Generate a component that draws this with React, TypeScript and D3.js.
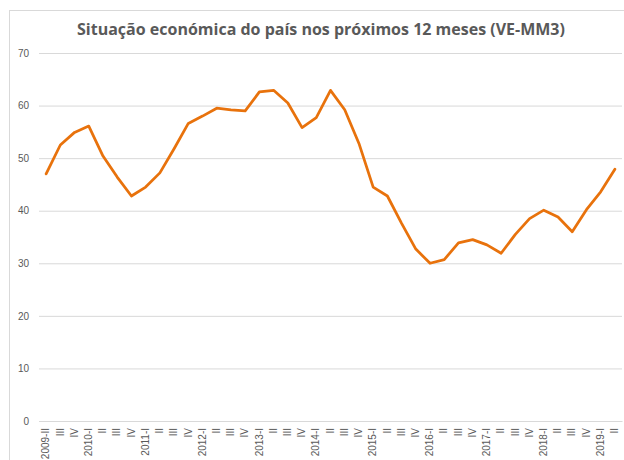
import React, { useEffect, useRef } from 'react';
import * as d3 from 'd3';

const years = ['2009', '2010', '2011', '2012', '2013', '2014', '2015', '2016', '2017', '2018', '2019'];
const quarters = ['I', 'II', 'III', 'IV'];

// quarter labels from 2009-II to 2019-II
const categories: string[] = [];
years.forEach((yr) => {
    quarters.forEach((q) => {
        if (yr === '2009' && q === 'I') return;
        if (yr === '2019' && (q === 'III' || q === 'IV')) return;
        categories.push(`${yr}-${q}`);
    });
});

const values = [
    47.0, 52.5, 54.9,
    56.1, 50.4, 46.4, 42.8,
    44.5, 47.2, 51.8, 56.6,
    58.0, 59.5, 59.2, 59.0,
    62.6, 62.9, 60.5, 55.8,
    57.7, 62.9, 59.2, 52.8,
    44.5, 42.8, 37.6, 32.7,
    30.0, 30.7, 33.9, 34.5,
    33.5, 31.9, 35.5, 38.5,
    40.1, 38.8, 36.0, 40.2,
    43.6, 47.9,
];

const yTicks = [0, 10, 20, 30, 40, 50, 60, 70];

const title = 'Situação económica do país nos próximos 12 meses (VE-MM3)';

// first category and every first quarter keep the year
const tickLabel = (c: string, i: number) => (i === 0 || c.endsWith('-I') ? c : c.split('-')[1]);

const App: React.FC = () => {
    const ref = useRef<SVGSVGElement>(null);

    useEffect(() => {
        if (!ref.current) return;
        const svg = d3.select(ref.current);
        svg.selectAll('*').remove();

        const width = 624;
        const height = 460;
        const margin = { top: 53, right: 2, bottom: 39, left: 39 };
        const font = 'Liberation Sans, Arial, sans-serif';

        svg.append('rect')
            .attr('x', 9.5).attr('y', 10.5)
            .attr('width', width).attr('height', height)
            .attr('fill', '#fff')
            .attr('stroke', '#d9d9d9');

        svg.append('text')
            .attr('x', 321).attr('y', 35)
            .attr('text-anchor', 'middle')
            .attr('font-family', 'Open Sans, sans-serif')
            .attr('font-size', 16)
            .attr('font-weight', 'bold')
            .attr('fill', '#595959')
            .text(title);

        const x = d3.scaleBand()
            .domain(categories)
            .range([margin.left, width - margin.right]);

        const y = d3.scaleLinear()
            .domain([0, 70])
            .range([height - margin.bottom, margin.top]);

        const grid = svg.append('g')
            .attr('transform', `translate(${margin.left},0)`)
            .call(d3.axisLeft(y).tickValues(yTicks).tickSize(-(width - margin.left - margin.right)).tickPadding(10));
        grid.select('.domain').remove();
        grid.selectAll('line').attr('stroke', '#d9d9d9');
        grid.selectAll('text')
            .attr('font-family', font)
            .attr('font-size', 10)
            .attr('fill', '#595959');

        const xAxis = svg.append('g')
            .attr('transform', `translate(0,${y(0)})`)
            .call(d3.axisBottom(x).tickSize(0).tickFormat(tickLabel));
        xAxis.select('.domain').attr('stroke', '#d9d9d9');
        xAxis.selectAll('text')
            .attr('font-family', font)
            .attr('font-size', 10)
            .attr('fill', '#595959')
            .attr('transform', 'rotate(-90)')
            .attr('text-anchor', 'end')
            .attr('dy', '0.32em')
            .attr('y', 0)
            .attr('x', -7);

        const line = d3.line<number>()
            .x((_, i) => (x(categories[i]) || 0) + x.bandwidth() / 2)
            .y((d) => y(d));

        svg.append('path')
            .datum(values)
            .attr('d', line)
            .attr('fill', 'none')
            .attr('stroke', '#E8720C')
            .attr('stroke-width', 2.75)
            .attr('stroke-linejoin', 'round')
            .attr('stroke-linecap', 'round');
    }, []);

    return (
        <svg
            ref={ref}
            width={624}
            height={460}
            style={{ position: 'absolute', left: 0, top: 0, background: '#fff' }}
        />
    );
};

export default App;
